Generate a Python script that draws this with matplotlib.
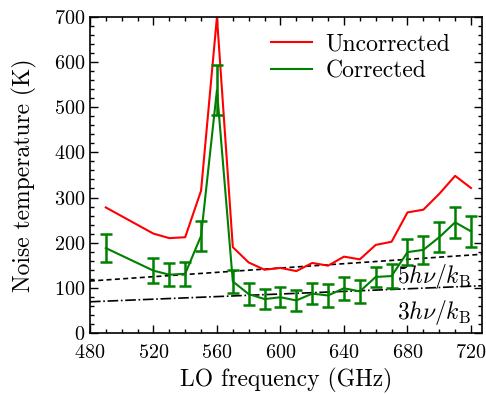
import matplotlib
matplotlib.use("Agg")
import matplotlib.pyplot as plt
from matplotlib.lines import Line2D
from matplotlib.ticker import MultipleLocator

plt.rcParams['font.family'] = 'serif'
plt.rcParams['font.serif'] = ['cmr10', 'DejaVu Serif']
plt.rcParams['mathtext.fontset'] = 'cm'
plt.rcParams['axes.formatter.use_mathtext'] = True

freq = [490, 520, 530, 540, 550, 560, 570, 580, 590, 600, 610, 620, 630,
        640, 650, 660, 670, 680, 690, 700, 710, 720]
uncorrected = [278, 220, 210, 212, 315, 700, 190, 156, 140, 144, 137, 155,
               149, 169, 163, 195, 202, 267, 273, 308, 348, 321]
corrected = [188, 138, 129, 131, 215, 538, 114, 86, 75, 79, 72, 87, 83,
             99, 92, 124, 126, 179, 184, 212, 245, 225]
corrected_err = [31, 27, 26, 27, 33, 55, 25, 24, 22, 22, 23, 23, 25, 25,
                 26, 23, 27, 29, 31, 33, 35, 34]

# quantum limit guide lines, end points
guide_x = [480, 730]
five_hv = [115, 175]
three_hv = [69, 105]

fig = plt.figure(figsize=(4.86, 3.94), dpi=100)
ax = fig.add_axes([0.185, 0.155, 0.807, 0.802])

ax.plot(guide_x, five_hv, 'k--', lw=1.2, dashes=(3, 2))
ax.plot(guide_x, three_hv, 'k-.', lw=1.2)
ax.plot(freq, uncorrected, color='#ff0000', lw=1.5)
ax.errorbar(freq, corrected, yerr=corrected_err, color='#008000', lw=1.5,
            elinewidth=1.8, capsize=4, capthick=1.8)

ax.text(720, 126, r'$5h\nu/k_\mathrm{B}$', fontsize=17, ha='right', va='center')
ax.text(720, 46, r'$3h\nu/k_\mathrm{B}$', fontsize=17, ha='right', va='center')

ax.set_xlim(480, 727)
ax.set_ylim(0, 700)
ax.xaxis.set_major_locator(MultipleLocator(40))
ax.xaxis.set_minor_locator(MultipleLocator(10))
ax.yaxis.set_major_locator(MultipleLocator(100))
ax.yaxis.set_minor_locator(MultipleLocator(20))
ax.tick_params(which='both', direction='in', top=True, right=True,
               labelsize=14.5, width=1.0)
ax.tick_params(which='major', length=6)
ax.tick_params(which='minor', length=3)
ax.tick_params(axis='x', pad=8)
for s in ax.spines.values():
    s.set_linewidth(1.2)

ax.set_xlabel('LO frequency (GHz)', fontsize=17, labelpad=4)
ax.set_ylabel('Noise temperature (K)', fontsize=17, labelpad=12)

handles = [Line2D([], [], color='#ff0000', lw=1.5),
           Line2D([], [], color='#008000', lw=1.5)]
ax.legend(handles, ['Uncorrected', 'Corrected'], loc='upper right',
          bbox_to_anchor=(0.962, 1.0), frameon=False, fontsize=17,
          handlelength=1.7, handletextpad=0.6, borderaxespad=0.3,
          labelspacing=0.2)

fig.savefig('out.png', dpi=100)
